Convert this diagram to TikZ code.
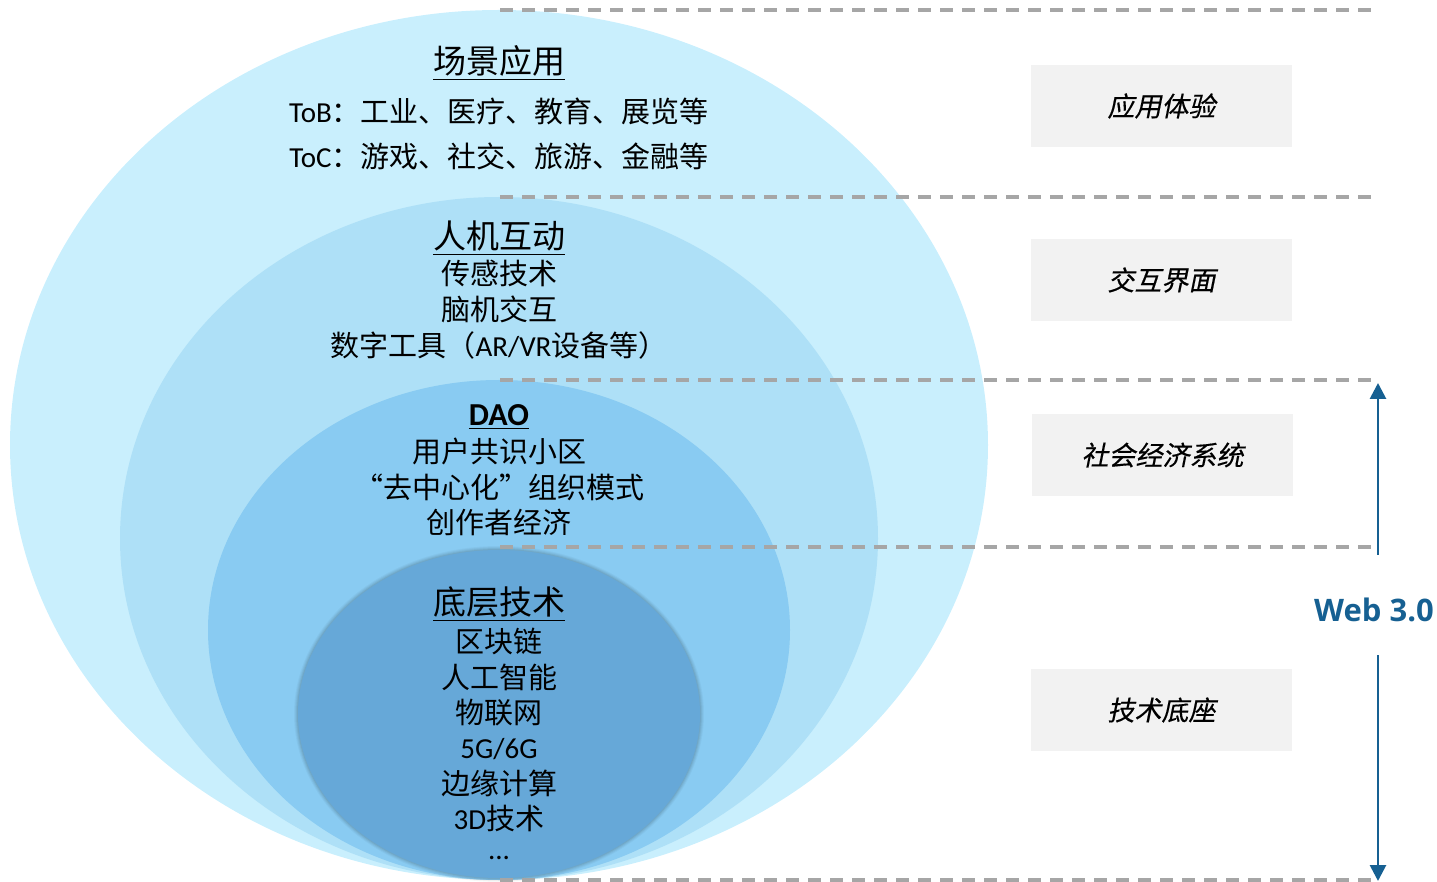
\documentclass[tikz,border=0pt]{standalone}
\usepackage{fontspec}
\setmainfont{Carlito}
\newfontfamily\cjk{Noto Sans CJK SC}
\newfontfamily\cjkit[FakeSlant=0.2,FakeBold=0.3]{Noto Sans CJK SC}
\newfontfamily\webfont{Open Sans}
\usetikzlibrary{arrows.meta}
\definecolor{e1}{RGB}{201,239,253}
\definecolor{e2}{RGB}{174,224,247}
\definecolor{e3}{RGB}{137,203,242}
\definecolor{e4}{RGB}{102,168,216}
\definecolor{dashgray}{RGB}{166,166,166}
\definecolor{boxgray}{RGB}{242,242,242}
\definecolor{webblue}{RGB}{22,96,146}
\tikzset{
  dashline/.style={draw=dashgray, line width=2pt, dash pattern=on 6.5pt off 4.5pt},
  sidebox/.style={fill=boxgray, minimum width=130.5pt, minimum height=41pt, inner sep=0pt, font=\cjkit\fontsize{13.5}{16}\selectfont},
  head/.style={inner sep=0pt, font=\cjk\fontsize{16.5}{18}\selectfont},
  body/.style={inner sep=0pt, font=\fontsize{14.5}{17}\selectfont},
  arr/.style={draw=webblue, line width=1.4pt, -{Triangle[length=8pt,width=8pt]}}
}
\begin{document}
\begin{tikzpicture}[x=0.5pt,y=-0.5pt]
\useasboundingbox (0,0) rectangle (1437,882);
% ellipses
\fill[e1] (499,445) ellipse [x radius=489, y radius=435];
\fill[e2] (499,538.5) ellipse [x radius=379, y radius=341.5];
\fill[e3] (499,630) ellipse [x radius=291, y radius=250];
\foreach \k/\o in {4/0.03,3/0.04,2/0.05,1/0.06}{
  \fill[black,opacity=\o] (499,714) ellipse [x radius=201+\k, y radius=164+\k];
}
\fill[e4] (499,714) ellipse [x radius=201, y radius=164];
% dashed lines
\coordinate (d1a) at (500,10); \coordinate (d1b) at (1378,10);
\coordinate (d2a) at (500,197); \coordinate (d2b) at (1378,197);
\coordinate (d3a) at (500,380); \coordinate (d3b) at (1378,380);
\coordinate (d4a) at (500,547); \coordinate (d4b) at (1378,547);
\coordinate (d5a) at (500,880); \coordinate (d5b) at (1378,880);
\foreach \i in {1,...,5}{ \draw[dashline] (d\i a) -- (d\i b); }
% texts layer 1
\node[head] (t1) at (499,63) {\underline{场景应用}};
\node[body] (t1a) at (499,111) {ToB{\cjk ：工业、医疗、教育、展览等}};
\node[body] (t1b) at (499,156) {ToC{\cjk ：游戏、社交、旅游、金融等}};
% layer 2
\node[head] (t2) at (499,238) {\underline{人机互动}};
\node[body] (t2a) at (499,273) {\cjk 传感技术};
\node[body] (t2b) at (499,309) {\cjk 脑机交互};
\node[body] (t2c) at (499,345) {{\cjk 数字工具（}AR/VR{\cjk 设备等）}};
% layer 3
\node[inner sep=0pt, font=\bfseries\fontsize{16}{18}\selectfont] (t3) at (499,417) {\underline{DAO}};
\node[body] (t3a) at (499,451) {\cjk 用户共识小区};
\node[body] (t3b) at (499,487) {\cjk “去中心化”组织模式};
\node[body] (t3c) at (499,522) {\cjk 创作者经济};
% layer 4
\node[head] (t4) at (499,604) {\underline{底层技术}};
\node[body] (t4a) at (499,641) {\cjk 区块链};
\node[body] (t4b) at (499,677) {\cjk 人工智能};
\node[body] (t4c) at (499,713) {\cjk 物联网};
\node[body] (t4d) at (499,749) {5G/6G};
\node[body] (t4e) at (499,783) {\cjk 边缘计算};
\node[body] (t4f) at (499,818) {3D{\cjk 技术}};
\node[body] (t4g) at (499,858) {...};
% side boxes
\node[sidebox] (b1) at (1161.5,106) {应用体验};
\node[sidebox] (b2) at (1161.5,280) {交互界面};
\node[sidebox] (b3) at (1162.5,455) {社会经济系统};
\node[sidebox] (b4) at (1161.5,710) {技术底座};
% web 3.0 arrows
\node[inner sep=0pt, text=webblue, font=\webfont\bfseries\fontsize{15.5}{18}\selectfont] (web) at (1374,610) {Web 3.0};
\coordinate (a1s) at (1378,555); \coordinate (a1e) at (1378,383);
\coordinate (a2s) at (1378,655); \coordinate (a2e) at (1378,881);
\draw[arr] (a1s) -- (a1e);
\draw[arr] (a2s) -- (a2e);
\end{tikzpicture}
\end{document}
